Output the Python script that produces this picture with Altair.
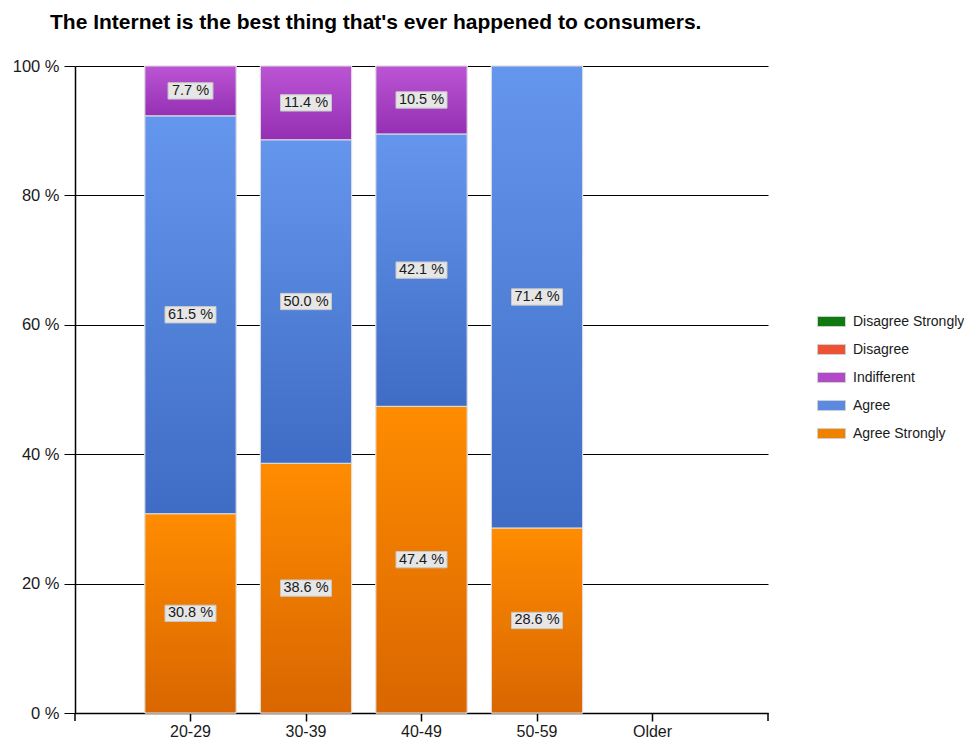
import altair as alt
import pandas as pd

ages = ["20-29", "30-39", "40-49", "50-59", "Older"]
responses = ["Agree Strongly", "Agree", "Indifferent", "Disagree", "Disagree Strongly"]
agree_strongly = [30.8, 38.6, 47.4, 28.6, 0.0]
agree = [61.5, 50.0, 42.1, 71.4, 0.0]
indifferent = [7.7, 11.4, 10.5, 0.0, 0.0]
disagree = [0.0, 0.0, 0.0, 0.0, 0.0]
disagree_strongly = [0.0, 0.0, 0.0, 0.0, 0.0]

legend_order = ["Disagree Strongly", "Disagree", "Indifferent", "Agree", "Agree Strongly"]
legend_colors = ["#0f7a10", "#ee5234", "#b04ac9", "#5b8ae0", "#f08200"]
gradients = {
    "Agree Strongly": ("#ff8c00", "#d96600"),
    "Agree": ("#6596ed", "#3f6cc4"),
    "Indifferent": ("#bb55d4", "#9530b4"),
    "Disagree": ("#f4603f", "#d03a20"),
    "Disagree Strongly": ("#1a8a1a", "#0a6a0a"),
}

series = [agree_strongly, agree, indifferent, disagree, disagree_strongly]
rows = []
for order, (resp, vals) in enumerate(zip(responses, series)):
    for age, v in zip(ages, vals):
        rows.append({"age": age, "response": resp, "value": v, "order": order})
df = pd.DataFrame(rows)

W, H = 693, 647
FONT = "Liberation Sans"

x_enc = alt.X("age:N", scale=alt.Scale(domain=ages, paddingInner=0.21, paddingOuter=0.605),
              axis=alt.Axis(title=None, labelFontSize=16, labelColor="#1a1a1a", labelFont=FONT,
                            labelPadding=2, tickSize=8, tickColor="#000000", tickWidth=1.5,
                            domainColor="#000000", domainWidth=1.5, grid=False, labelAngle=0))
y_scale = alt.Scale(domain=[0, 100], nice=False, zero=True)

base = alt.Chart(df).transform_filter("datum.value > 0").transform_stack(
    stack="value", groupby=["age"], as_=["y0", "y1"], sort=[alt.SortField("order", order="ascending")]
).transform_calculate(mid="(datum.y0 + datum.y1) / 2",
                      label="format(datum.value, '.1f') + ' %'",
                      short="length(format(datum.value, '.1f')) <= 3 ? 'short' : 'long'")

solid = base.mark_bar(stroke="#e2e2e2", strokeWidth=1).encode(
    x=x_enc,
    y=alt.Y("y1:Q", scale=y_scale,
            axis=alt.Axis(title=None, values=[0, 20, 40, 60, 80, 100], labelExpr="datum.value + ' %'",
                          labelFontSize=16.5, labelColor="#1a1a1a", labelFont=FONT, labelPadding=5,
                          tickSize=11, tickColor="#000000", domainColor="#000000", domainWidth=1.5,
                          grid=True, gridColor="#000000", gridWidth=1, gridOpacity=1)),
    y2="y0:Q",
    color=alt.Color("response:N", scale=alt.Scale(domain=legend_order, range=legend_colors),
                    legend=alt.Legend(title=None, orient="none", legendX=W + 49, legendY=241,
                                      symbolType="M-1,-0.36L1,-0.36L1,0.36L-1,0.36Z", symbolSize=784,
                                      symbolStrokeColor="#d0d0d0", symbolStrokeWidth=1,
                                      labelFontSize=14, labelFont=FONT, labelColor="#1a1a1a",
                                      labelLimit=200, rowPadding=6, labelOffset=7)),
)

layers = [solid]
for resp in responses:
    top, bottom = gradients[resp]
    grad = alt.Gradient(gradient="linear", x1=0, x2=0, y1=0, y2=1,
                        stops=[alt.GradientStop(color=top, offset=0),
                               alt.GradientStop(color=bottom, offset=1)])
    layers.append(
        base.transform_filter(alt.datum.response == resp)
        .mark_bar(color=grad, stroke="#e2e2e2", strokeWidth=1)
        .encode(x=alt.X("age:N"), y=alt.Y("y1:Q"), y2="y0:Q")
    )

boxes = base.mark_point(filled=True, fill="#e6e6e6", stroke="#c8c8c8", strokeWidth=1, opacity=1,
                        size=2601).encode(
    x=alt.X("age:N"),
    y=alt.Y("mid:Q"),
    shape=alt.Shape("short:N", scale=alt.Scale(domain=["short", "long"],
                                                range=["M-0.88,-0.32L0.88,-0.32L0.88,0.32L-0.88,0.32Z",
                                                       "M-1,-0.32L1,-0.32L1,0.32L-1,0.32Z"]),
                    legend=None),
)
texts = base.mark_text(fontSize=14.5, font=FONT, color="#1a1a1a").encode(
    x=alt.X("age:N"), y=alt.Y("mid:Q"), text="label:N")

tick_src = alt.Chart(pd.DataFrame({"k": [0]}))
left_tick = tick_src.mark_rule(color="#000000", strokeWidth=1.5).encode(
    x=alt.value(0), y=alt.value(H), y2=alt.value(H + 8))
right_tick = tick_src.mark_rule(color="#000000", strokeWidth=1.5).encode(
    x=alt.value(W), y=alt.value(H), y2=alt.value(H + 8))

chart = alt.layer(*layers, boxes, texts, left_tick, right_tick).properties(
    width=W, height=H,
    title=alt.TitleParams("The Internet is the best thing that's ever happened to consumers.",
                          anchor="start", frame="group", dx=-25, offset=25, fontSize=21, font=FONT,
                          fontWeight="bold", color="#000000"),
    autosize=alt.AutoSizeParams(type="none"),
    padding={"left": 67, "top": 58, "right": 196, "bottom": 27},
).configure_view(stroke=None).configure_axis(labelFont=FONT)

chart.save("out.html", embed_options={"renderer": "svg", "actions": False})
